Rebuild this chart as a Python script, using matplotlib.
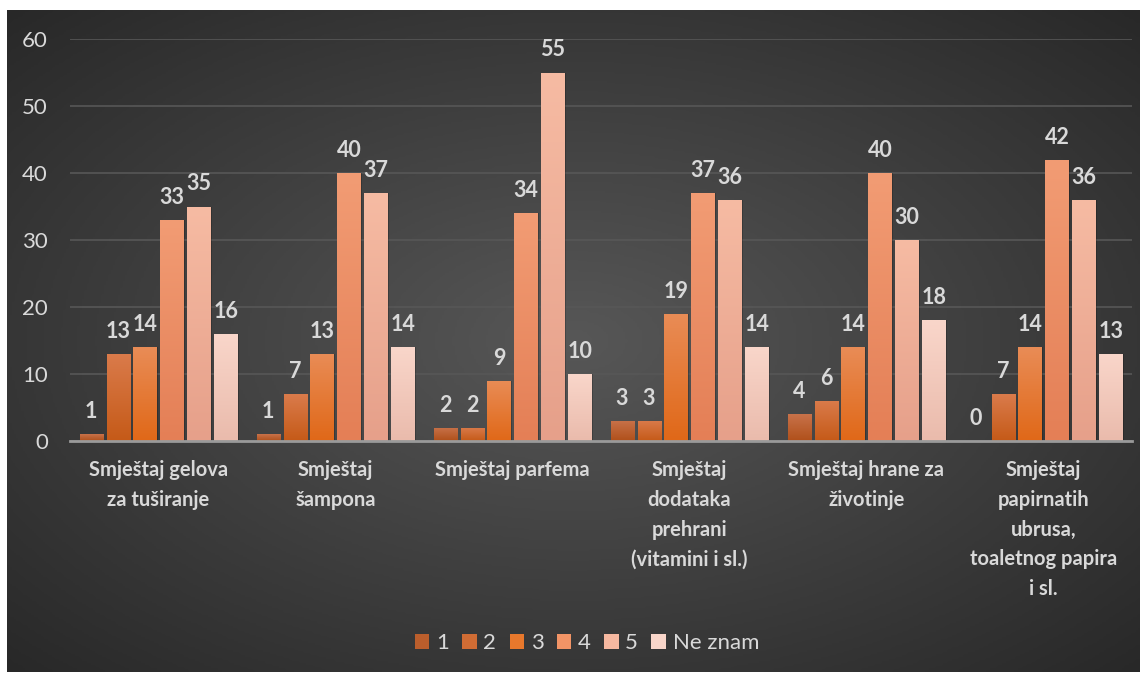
import numpy as np
import matplotlib.pyplot as plt
from matplotlib.patches import Patch
from matplotlib.colors import LinearSegmentedColormap

categories = ['Smještaj gelova\nza tuširanje', 'Smještaj\nšampona', 'Smještaj parfema',
              'Smještaj\ndodataka\nprehrani\n(vitamini i sl.)', 'Smještaj hrane za\nživotinje',
              'Smještaj\npapirnatih\nubrusa,\ntoaletnog papira\ni sl.']
series_names = ['1', '2', '3', '4', '5', 'Ne znam']
s1 = [1, 1, 2, 3, 4, 0]
s2 = [13, 7, 2, 3, 6, 7]
s3 = [14, 13, 9, 19, 14, 14]
s4 = [33, 40, 34, 37, 40, 42]
s5 = [35, 37, 55, 36, 30, 36]
s_nz = [16, 14, 10, 14, 18, 13]
yticks = [0, 10, 20, 30, 40, 50, 60]

series = [s1, s2, s3, s4, s5, s_nz]
# (top, bottom) gradient colours per series
grads = [('#C8724A', '#B0501A'), ('#DA7B4B', '#C55A18'), ('#E98C56', '#E06818'),
         ('#F29C74', '#E47F56'), ('#F6BBA3', '#E6A08A'), ('#F9D6CA', '#EABBAC')]
legend_cols = ['#BB5E2C', '#D06C34', '#E8782C', '#F29466', '#F6B8A0', '#F9D6CA']

txt = '#D9D9D9'
plt.rcParams['font.family'] = ['Lato', 'DejaVu Sans']

fig = plt.figure(figsize=(11.48, 6.77), dpi=100)
fig.patch.set_facecolor('white')

# dark radial background panel
bg = fig.add_axes([7 / 1148, 5 / 677, 1133 / 1148, 662 / 677])
yy, xx = np.mgrid[-1:1:300j, -1:1:500j]
r = np.sqrt((xx * 0.95) ** 2 + (yy * 0.95) ** 2)
bg.imshow(r, cmap=LinearSegmentedColormap.from_list('bg', ['#575757', '#282828']),
          aspect='auto', vmin=0, vmax=1.35, extent=[0, 1, 0, 1])
bg.set_axis_off()

ax = fig.add_axes([70 / 1148, (677 - 441) / 677, 1062 / 1148, 402 / 677])
ax.set_facecolor('none')

x = np.arange(len(categories))
slot = 0.1525
width = 0.13
for i, (vals, (ctop, cbot)) in enumerate(zip(series, grads)):
    pos = x + (i - 2.5) * slot
    # soft shadow
    ax.bar(pos + 0.01, vals, width, color='black', alpha=0.2, zorder=2)
    bars = ax.bar(pos, vals, width, color=ctop, linewidth=0, zorder=3)
    cmap = LinearSegmentedColormap.from_list('g%d' % i, [cbot, ctop])
    grad = np.linspace(0, 1, 100).reshape(-1, 1)
    for b, v in zip(bars, vals):
        if v > 0:
            im = ax.imshow(grad, cmap=cmap, origin='lower', aspect='auto', zorder=3,
                           extent=[b.get_x(), b.get_x() + width, 0, v])
            im.set_clip_path(b)
        ax.text(b.get_x() + width / 2, v + 1.8, str(v), ha='center', va='bottom',
                color=txt, fontsize=15.5, fontweight='bold', zorder=4)

ax.set_xlim(-0.5, len(categories) - 0.5)
ax.set_ylim(0, 60)
ax.set_yticks(yticks)
ax.grid(axis='y', color='#575757', linewidth=1.2, zorder=0)
ax.set_axisbelow(True)
for s in ['top', 'right', 'left']:
    ax.spines[s].set_visible(False)
ax.spines['bottom'].set_color('#9A9A9A')
ax.spines['bottom'].set_linewidth(2)
ax.spines['bottom'].set_zorder(5)
ax.tick_params(axis='y', length=0, labelcolor=txt, labelsize=16, pad=16)
ax.tick_params(axis='x', length=0)
ax.set_xticks(x)
ax.set_xticklabels(categories, color=txt, fontsize=14.5, fontweight='bold',
                   linespacing=1.6, va='top')
ax.tick_params(axis='x', pad=14)

handles = [Patch(facecolor=c) for c in legend_cols]
fig.legend(handles, series_names, loc='center', bbox_to_anchor=(587 / 1148, 1 - 643 / 677),
           ncol=6, frameon=False, fontsize=16, labelcolor=txt, handlelength=0.65,
           handleheight=0.65, handletextpad=0.3, columnspacing=0.6)

fig.savefig('out.png', dpi=100)
